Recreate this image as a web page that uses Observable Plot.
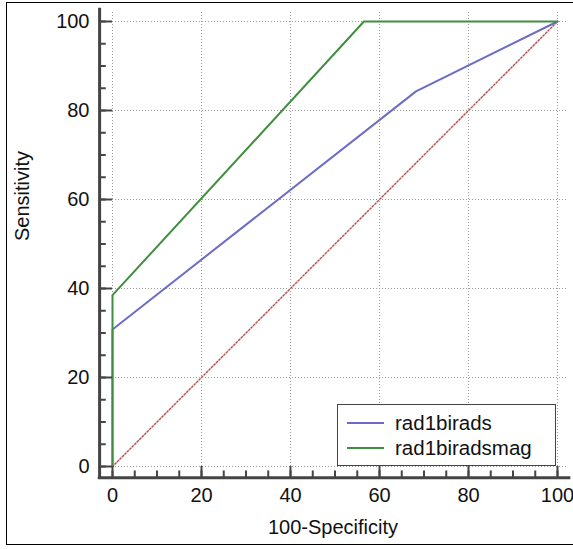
<!DOCTYPE html>
<html>
<head>
<meta charset="utf-8">
<script src="https://cdn.jsdelivr.net/npm/d3@7"></script>
<script src="https://cdn.jsdelivr.net/npm/@observablehq/plot@0.6"></script>
<style>
  html, body { margin: 0; padding: 0; background: #fff; }
  #wrap { position: relative; width: 573px; height: 549px; overflow: hidden; font-family: "Liberation Sans", Arial, sans-serif; }
  #frame { position: absolute; left: 6px; top: 2px; width: 580px; height: 541px; border-top: 1.5px solid #000; border-left: 1.5px solid #000; border-bottom: 1.5px solid #000; pointer-events: none; }
  #legend { position: absolute; left: 337px; top: 404px; width: 219px; height: 62px; border: 1px solid #444; background: #fff; box-sizing: border-box; }
  .row { position: absolute; left: 9px; height: 22px; display: flex; align-items: center; font-size: 20.5px; color: #111; }
  .sw { width: 37px; height: 0; border-top: 2px solid; margin-right: 11px; }
</style>
</head>
<body>
<div id="wrap">
  <div id="chart"></div>
  <div id="frame"></div>
  <div id="legend"></div>
</div>
<script>
// ---- data ----
const seriesNames = ["rad1birads", "rad1biradsmag"];
const seriesColors = ["#6c6cc8", "#3f8f3f"];
const xBirads = [0, 0, 68.2, 100];
const yBirads = [0, 30.8, 84.3, 100];
const xBiradsMag = [0, 0, 56.5, 100];
const yBiradsMag = [0, 38.5, 100, 100];
const xDiag = [0, 100];
const yDiag = [0, 100];
const xTicks = [0, 20, 40, 60, 80, 100];
const yTicks = [0, 20, 40, 60, 80, 100];
const minorTicks = d3.range(0, 101, 5);
const xTitle = "100-Specificity";
const yTitle = "Sensitivity";

const toRows = (xs, ys, name) => xs.map((x, i) => ({x, y: ys[i], name}));
const birads = toRows(xBirads, yBirads, seriesNames[0]);
const biradsMag = toRows(xBiradsMag, yBiradsMag, seriesNames[1]);
const diag = toRows(xDiag, yDiag, "ref");

// axis offset (data units, ~13px outside the plot frame)
const off = 2.9;
const gridEnd = 102.3;
const axisEnd = 103;

const chart = Plot.plot({
  width: 573,
  height: 549,
  marginLeft: 112,
  marginRight: 16,
  marginTop: 21,
  marginBottom: 83,
  style: {fontFamily: "'Liberation Sans', Arial, sans-serif", fontSize: "20px", color: "#111", background: "transparent"},
  x: {domain: [0, 100]},
  y: {domain: [0, 100]},
  marks: [
    // grid
    Plot.ruleX(xTicks, {y1: 0, y2: gridEnd, stroke: "#9a9a9a", strokeWidth: 1, strokeDasharray: "1,2"}),
    Plot.ruleY(yTicks, {x1: 0, x2: gridEnd, stroke: "#9a9a9a", strokeWidth: 1, strokeDasharray: "1,2"}),
    // diagonal reference
    Plot.line(diag, {x: "x", y: "y", stroke: "#f0d2d2", strokeWidth: 2}),
    Plot.line(diag, {x: "x", y: "y", stroke: "#b05050", strokeWidth: 1.2, strokeDasharray: "1.5,2"}),
    // curves
    Plot.line(birads, {x: "x", y: "y", stroke: seriesColors[0], strokeWidth: 2}),
    Plot.line(biradsMag, {x: "x", y: "y", stroke: seriesColors[1], strokeWidth: 2}),
    // axis lines
    Plot.ruleX([-off], {y1: -off + 0.4, y2: axisEnd, stroke: "#444", strokeWidth: 3}),
    Plot.ruleY([-off + 0.4], {x1: -off - 0.3, x2: axisEnd, stroke: "#444", strokeWidth: 3}),
    // minor ticks
    Plot.ruleY(minorTicks, {x1: -off, x2: -off + 1.5, stroke: "#444", strokeWidth: 2}),
    Plot.ruleX(minorTicks, {y1: -off + 0.4, y2: -off + 1.9, stroke: "#444", strokeWidth: 2}),
    // major ticks
    Plot.ruleY(yTicks, {x1: -off, x2: 0, stroke: "#444", strokeWidth: 2}),
    Plot.ruleX(xTicks, {y1: -off + 0.4, y2: 0, stroke: "#444", strokeWidth: 2}),
    // tick labels
    Plot.axisY(yTicks, {tickSize: 0, tickPadding: 23, label: null, fontSize: 20, fill: "#111"}),
    Plot.axisX(xTicks, {tickSize: 0, tickPadding: 21, label: null, fontSize: 20, fill: "#111"}),
    // titles
    Plot.text([yTitle], {frameAnchor: "left", rotate: -90, dx: -90, dy: -3, fontSize: 20, fill: "#111"}),
    Plot.text([xTitle], {frameAnchor: "bottom", dx: -2, dy: 67, fontSize: 20, fill: "#111"})
  ]
});
document.getElementById("chart").appendChild(chart);

// legend
const legend = document.getElementById("legend");
seriesNames.forEach((name, i) => {
  const row = document.createElement("div");
  row.className = "row";
  row.style.top = (7 + i * 25) + "px";
  const sw = document.createElement("div");
  sw.className = "sw";
  sw.style.borderColor = seriesColors[i];
  const t = document.createElement("span");
  t.textContent = name;
  row.appendChild(sw);
  row.appendChild(t);
  legend.appendChild(row);
});
</script>
</body>
</html>
